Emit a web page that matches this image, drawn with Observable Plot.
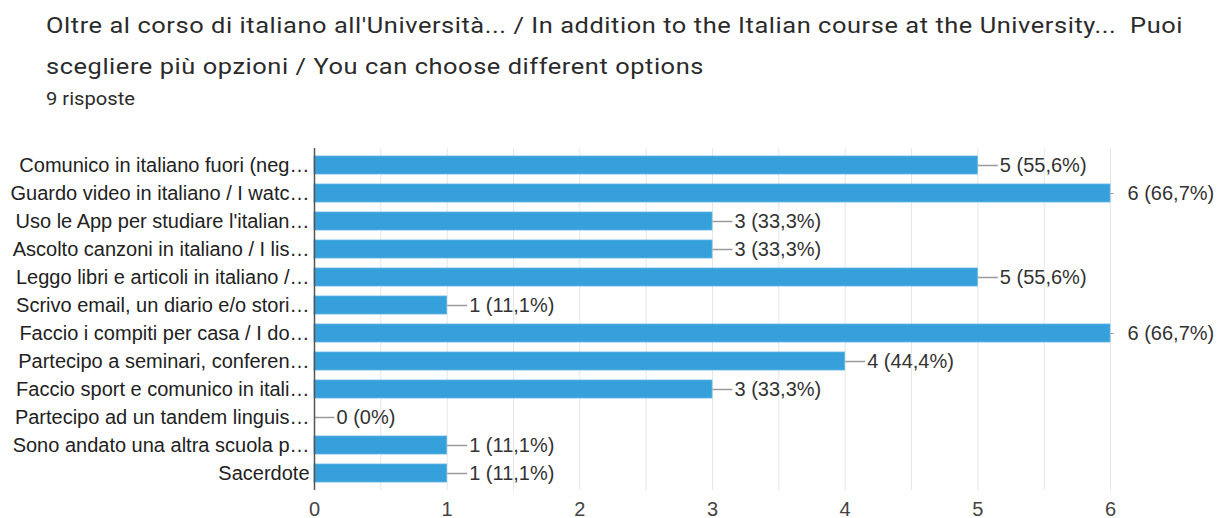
<!DOCTYPE html>
<html>
<head>
<meta charset="utf-8">
<script src="https://cdn.jsdelivr.net/npm/d3@7"></script>
<script src="https://cdn.jsdelivr.net/npm/@observablehq/plot@0.6"></script>
<style>
  html, body { margin: 0; padding: 0; background: #fff; overflow: hidden; }
  #head { height: 118px; box-sizing: border-box; padding: 5px 0 0 46px; font-family: Roboto, sans-serif; color: #2b2b2b; }
  #title { font-size: 22.5px; line-height: 41px; white-space: pre; letter-spacing: 0.5px; transform-origin: 0 0; display: inline-block; }
  #sub { font-size: 17.5px; line-height: 22px; margin-top: 1px; transform-origin: 0 0; display: inline-block; }
  #chart svg { display: block; }
</style>
</head>
<body>
<div id="head">
  <div id="title"></div><br>
  <div id="sub"></div>
</div>
<div id="chart"></div>
<script>
const titleLines = [
  "Oltre al corso di italiano all'Università... / In addition to the Italian course at the University...  Puoi",
  "scegliere più opzioni / You can choose different options"
];
const subtitle = "9 risposte";

const categories = [
  "Comunico in italiano fuori (neg…",
  "Guardo video in italiano / I watc…",
  "Uso le App per studiare l'italian…",
  "Ascolto canzoni in italiano / I lis…",
  "Leggo libri e articoli in italiano /…",
  "Scrivo email, un diario e/o stori…",
  "Faccio i compiti per casa / I do…",
  "Partecipo a seminari, conferen…",
  "Faccio sport e comunico in itali…",
  "Partecipo ad un tandem linguis…",
  "Sono andato una altra scuola p…",
  "Sacerdote"
];
const counts = [5, 6, 3, 3, 5, 1, 6, 4, 3, 0, 1, 1];
const percents = ["55,6%", "66,7%", "33,3%", "33,3%", "55,6%", "11,1%", "66,7%", "44,4%", "33,3%", "0%", "11,1%", "11,1%"];
const xTicks = [0, 1, 2, 3, 4, 5, 6];
const xMax = 6;

const titleEl = document.getElementById("title");
const subEl = document.getElementById("sub");
titleEl.textContent = titleLines.join("\n");
subEl.textContent = subtitle;
// widen the header text horizontally to match the reference's wider face
const tw = titleEl.getBoundingClientRect().width;
titleEl.style.transform = `scaleX(${1137 / tw})`;
const sw = subEl.getBoundingClientRect().width;
subEl.style.transform = `scaleX(${89 / sw})`;

const data = categories.map((c, i) => ({
  cat: c, v: counts[i], label: `${counts[i]} (${percents[i]})`
}));

const W = 1232, ml = 314, mr = 122;
const unitPx = (W - ml - mr) / xMax;
const leaderUnits = 20 / unitPx;

const inside = data.filter(d => d.v < xMax);
const atMax = data.filter(d => d.v >= xMax);

const chart = Plot.plot({
  width: W,
  height: 400,
  marginLeft: ml,
  marginRight: mr,
  marginTop: 30,
  marginBottom: 28,
  style: { fontFamily: "'Liberation Sans', Arial, sans-serif", fontSize: "20px", color: "#222", background: "#fff", overflow: "visible" },
  x: { domain: [0, xMax], ticks: xTicks, label: null },
  y: { domain: categories, label: null, paddingInner: 0.366, paddingOuter: 0.18 },
  marks: [
    Plot.gridX(d3.range(0, xMax + 0.01, 0.5), { stroke: "#e6e6e6", strokeOpacity: 1, strokeWidth: 1 }),
    Plot.ruleY([0], { frameAnchor: "bottom", stroke: "#e6e6e6" }),
    Plot.barX(data, { y: "cat", x: "v", fill: "#36a0db", stroke: "#5fb3e4", strokeWidth: 0.8 }),
    Plot.link(inside, { y1: "cat", y2: "cat", x1: "v", x2: d => d.v + leaderUnits, stroke: "#9a9a9a", strokeWidth: 1.5 }),
    Plot.link(atMax, { y1: "cat", y2: "cat", x1: "v", x2: d => d.v + 3 / unitPx, stroke: "#9a9a9a", strokeWidth: 1 }),
    Plot.text(inside, { y: "cat", x: "v", text: "label", dx: 22, textAnchor: "start", fill: "#333", fontSize: 20 }),
    Plot.text(atMax, { y: "cat", x: "v", text: "label", dx: 17, textAnchor: "start", fill: "#333", fontSize: 20 }),
    Plot.ruleX([0], { stroke: "#555", strokeWidth: 1.5 }),
    Plot.axisX({ ticks: xTicks, tickSize: 0, tickPadding: 11, fontSize: 20, fill: "#444", label: null, tickFormat: d => String(d) }),
    Plot.axisY({ tickSize: 0, tickPadding: 5, fontSize: 20, fill: "#222", label: null, textOverflow: null })
  ]
});
document.getElementById("chart").appendChild(chart);
</script>
</body>
</html>
